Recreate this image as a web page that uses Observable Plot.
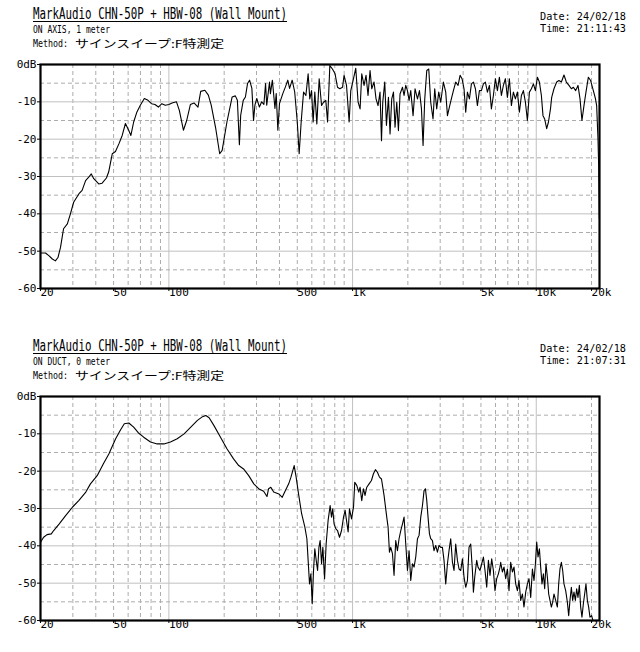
<!DOCTYPE html>
<html>
<head>
<meta charset="utf-8">
<script src="https://cdn.jsdelivr.net/npm/d3@7"></script>
<script src="https://cdn.jsdelivr.net/npm/@observablehq/plot@0.6"></script>
<style>
  html, body { margin: 0; padding: 0; background: #fff; }
  #root { position: relative; width: 640px; height: 652px; background: #fff; overflow: hidden; }
  .hdr { position: absolute; left: 0; pointer-events: none; }
</style>
</head>
<body>
<div id="root"></div>
<script>
// ---------- text ----------
const titleText = "MarkAudio CHN-50P + HBW-08 (Wall Mount)";
const methodLabel = "Method:";
const methodText = "サインスイープ:F特測定";
const subTop = "ON AXIS, 1 meter";
const subBottom = "ON DUCT, 0 meter";
const dateTop = "Date: 24/02/18";
const timeTop = "Time: 21:11:43";
const dateBottom = "Date: 24/02/18";
const timeBottom = "Time: 21:07:31";

// ---------- axes ----------
const xTicks = [20, 50, 100, 500, 1000, 5000, 10000, 20000];
const xTickLabels = ["20", "50", "100", "500", "1k", "5k", "10k", "20k"];
const yTicks = [0, -10, -20, -30, -40, -50, -60];
const gridSolidX = [100, 1000, 10000];
const gridDashX = [30, 40, 50, 60, 70, 80, 90, 200, 300, 400, 500, 600, 700, 800, 900,
                   2000, 3000, 4000, 5000, 6000, 7000, 8000, 9000, 20000];
const gridSolidY = [-10, -20, -30, -40, -50];
const gridDashY = [-5, -15, -25, -35, -45, -55];

// ---------- series: ON AXIS, 1 meter (Hz, dB) ----------
const axisFreq = [20, 21.3, 22.2, 23.2, 24.1, 24.9, 25.7, 26.7, 28, 29.1, 30.3, 32.4, 33.7, 35.2, 36.6, 37.8, 39, 41.5, 43.3, 45.7,
  47, 49.2, 51.2, 53.5, 55.7, 58, 60.4, 62.1, 64.3, 67, 69.9, 73.5, 77, 80.4, 84, 87.7, 91.5, 95.6, 100, 104,
  110, 114, 120, 125, 131, 137, 144, 149, 157, 164, 170, 180, 189, 195, 207, 221, 230, 236, 242, 246,
  254, 261, 268, 275, 283, 289, 294, 301, 311, 320, 329, 336, 341, 353, 357, 366, 378, 384, 392, 400,
  417, 431, 444, 454, 469, 484, 500, 512, 525, 541, 557, 573, 585, 598, 610, 623, 639, 658, 678, 695,
  715, 731, 752, 777, 803, 828, 852, 882, 899, 927, 958, 978, 1012, 1041, 1072, 1099, 1122, 1155, 1184, 1214,
  1245, 1272, 1309, 1342, 1376, 1411, 1437, 1460, 1497, 1529, 1568, 1600, 1634, 1670, 1703, 1740, 1777, 1813, 1870, 1907,
  1948, 1990, 2031, 2074, 2135, 2189, 2256, 2313, 2372, 2420, 2472, 2535, 2599, 2664, 2742, 2801, 2872, 2945, 3020, 3123,
  3215, 3285, 3381, 3466, 3541, 3644, 3753, 3849, 3944, 4044, 4131, 4220, 4327, 4437, 4549, 4665, 4783, 4905, 5029, 5157,
  5287, 5422, 5559, 5700, 5844, 5992, 6145, 6301, 6460, 6624, 6792, 6965, 7142, 7323, 7509, 7699, 7895, 8095, 8302, 8513,
  8729, 8951, 9178, 9412, 9651, 9895, 10147, 10404, 10666, 10882, 11116, 11399, 11656, 11953, 12135, 12491, 12920, 13296, 13704, 14159,
  14584, 15071, 15532, 15926, 16392, 16879, 17313, 17737, 18189, 18653, 19220, 19776, 20456, 20975, 21324, 21680, 21870, 22060];
const axisDb = [-50.5, -50.5, -51.2, -52.1, -52.6, -51.7, -49, -44, -42.7, -40, -36.9, -34.6, -33.7, -31.1, -30.2, -29.3, -30.6, -32, -31.8, -30.4,
  -28.8, -23.9, -23.3, -21.2, -19, -15.8, -17.6, -19, -15.4, -12.7, -10.9, -9.1, -9.6, -10.5, -10.7, -11.4, -10.5, -10.9, -10.7, -10.3,
  -10, -12.3, -17.6, -15, -10.7, -10.3, -11.4, -7.2, -6.9, -8.2, -10.9, -17.2, -23.9, -23, -15.4, -8.7, -8.4, -9.6, -21.5, -13.6,
  -9.6, -8.7, -5.1, -4.2, -6.4, -15, -10.9, -9.1, -11.4, -10, -10.7, -5.1, -10.9, -4.7, -7.8, -4.2, -11.8, -7.8, -17.6, -10.5,
  -7.8, -6, -4.2, -6.4, -4.2, -7.3, -15.4, -23.9, -15.4, -7.4, -8.3, -2.5, -9.2, -7, -15.4, -7.4, -15.9, -3.8, -11, -10.1,
  -9.6, -15.4, -0.3, -1.2, -2.5, -6.1, -6.5, -6.1, -2.9, -5.6, -15.4, -7, -3.8, -1, -10.1, -11.9, -2.5, -5.6, -2.9, -8.3,
  -1.6, -6.5, -4.7, -9.2, -11, -7.4, -20.4, -10.1, -4.7, -16.3, -8.8, -18.6, -9.2, -7.4, -16.8, -10.1, -17.7, -7.9, -6.1, -8.3,
  -5.6, -7, -9.6, -7, -13.7, -6.5, -9.2, -7, -11.9, -21.7, -9.2, -1.6, -1.2, -10.1, -14.6, -6.5, -11.9, -7.4, -10.1, -4.7,
  -7.4, -13.7, -11, -8.8, -7, -4.7, -5.6, -2.9, -3.8, -6.5, -12.8, -7.4, -9.2, -5.2, -4.7, -6.5, -11, -7, -7, -5.2,
  -4.7, -7.4, -5.6, -11.9, -8.3, -3.8, -7, -3.4, -8.3, -5.6, -3.8, -8.8, -3.8, -11, -7.4, -9.2, -7.4, -12.8, -8.3, -7,
  -10.1, -15, -7.4, -6.5, -5.2, -7, -3.4, -4.7, -8.3, -13.7, -14.6, -17.2, -15.4, -11.9, -8.8, -6.5, -4.7, -4.3, -4.7, -2.8,
  -4.7, -5.6, -6.5, -6.1, -7, -5.6, -9.2, -15, -11, -7.4, -3.4, -4.3, -7, -9, -11, -19.8, -27, -41.3];

// ---------- series: ON DUCT, 0 meter (Hz, dB) ----------
const ductFreq = [20, 20.8, 21.7, 22.9, 23.6, 25.3, 27.4, 29.9, 32.3, 35.3, 37.4, 40.7, 44, 47.1, 51.3, 54.6, 57.2, 60.5, 64.3, 68.1,
  72.9, 79.4, 86.4, 93.9, 102, 111, 121, 131.6, 143, 152.5, 158.9, 165.6, 176, 191, 207, 225, 240, 255, 272, 290,
  308, 328, 342, 349, 359, 372, 397, 414, 431, 449, 462, 481, 493, 508, 528, 550, 564, 573, 583, 593,
  603, 613, 623, 634, 645, 656, 666, 678, 689, 704, 718, 736, 755, 768, 780, 793, 810, 828, 849, 871,
  893, 911, 930, 946, 962, 987, 1012, 1028, 1054, 1081, 1099, 1122, 1146, 1169, 1195, 1230, 1267, 1299, 1332, 1366,
  1401, 1437, 1484, 1535, 1561, 1588, 1614, 1649, 1682, 1718, 1755, 1791, 1830, 1870, 1907, 1948, 1990, 2031, 2074, 2119,
  2162, 2208, 2256, 2302, 2351, 2402, 2450, 2493, 2535, 2576, 2622, 2664, 2722, 2776, 2836, 2897, 2956, 3020, 3085, 3147,
  3215, 3285, 3351, 3423, 3497, 3567, 3644, 3723, 3799, 3880, 3964, 4044, 4131, 4220, 4306, 4398, 4493, 4549, 4624, 4741,
  4820, 4942, 5048, 5157, 5261, 5374, 5490, 5601, 5721, 5844, 5963, 6091, 6222, 6348, 6404, 6542, 6674, 6818, 6965, 7107,
  7259, 7416, 7565, 7729, 7895, 8055, 8230, 8408, 8577, 8762, 8951, 9133, 9330, 9532, 9724, 9895, 10059, 10225, 10405, 10573,
  10746, 10937, 11116, 11299, 11499, 11688, 11880, 12090, 12288, 12490, 12759, 13034, 13248, 13465, 13704, 13929, 14157, 14463, 14774, 15017,
  15263, 15531, 15787, 16046, 16329, 16598, 16873, 17170, 17451, 17737, 18051, 18348, 18650, 18980, 19292, 19608, 20025, 20456, 21000, 22060];
const ductDb = [-39, -37.7, -37, -36.8, -35.9, -34.1, -31.9, -29.6, -27.9, -25.6, -23.4, -21.2, -18, -15.4, -11.3, -8.9, -7.3, -7.1, -8.2, -9.7,
  -10.9, -12.2, -12.7, -12.7, -12.2, -11.3, -10, -8.2, -6.4, -5.4, -5.1, -5.7, -7.8, -10.9, -14, -16.7, -18.5, -19.4, -21.2, -23.4,
  -24.7, -25.4, -26.8, -24.7, -24.3, -25.6, -26.1, -27, -25.2, -23.4, -21.6, -18.5, -21.6, -26.1, -31.4, -35, -38.1, -43.9, -50.2, -47.5,
  -55.5, -46.6, -40.8, -43.9, -46.6, -40.4, -38.6, -44.8, -40.4, -48.8, -39.5, -33.2, -29.2, -32.3, -30.1, -34.1, -35.4, -35.9, -37.7, -35.9,
  -32.3, -30.5, -33.7, -36.3, -30.1, -32.8, -29.6, -23, -23.8, -25.6, -24.3, -27.9, -24.7, -26.5, -24.3, -23.4, -22.5, -20.7, -19.6, -20.3,
  -21.6, -22.1, -26.5, -32.3, -35, -41.7, -40.4, -42.1, -47.9, -38.6, -41.3, -38.1, -35.9, -34.1, -32.3, -39.5, -46.6, -41.3, -49.3, -44.8,
  -45.7, -43, -38.1, -37.2, -32.3, -29.2, -25.2, -24.7, -27.9, -32.3, -36.8, -38.1, -38.6, -41.3, -39.9, -41.7, -39.9, -40.4, -40.4, -43.9,
  -50.2, -44.8, -41.3, -38.1, -44.4, -46.6, -39.5, -43.9, -46.2, -46.6, -43.5, -48.4, -51.1, -49.3, -40.4, -39.5, -46.6, -52.4, -48.4, -43.9,
  -45.7, -46.6, -44.8, -43, -46.6, -51.1, -43.9, -47.9, -43.5, -46.6, -52, -48.8, -47.5, -45.7, -44.4, -47, -45.7, -48.8, -46.2, -52,
  -44.4, -47, -45.7, -50.2, -52, -49.3, -54.6, -52.9, -56.4, -52.4, -50.2, -48.8, -53.8, -46.2, -49.3, -44.8, -39, -43, -40.8, -45.7,
  -50.2, -47.5, -51.5, -44.8, -48.4, -52.9, -54.6, -56.4, -55.1, -52.9, -54.6, -56.4, -50.2, -46.2, -44.4, -46.6, -50.2, -52, -55.1, -58.7,
  -54.6, -51.1, -54.6, -52.4, -54.6, -51.5, -53.8, -50.6, -56.4, -59.1, -55.5, -52.9, -50.2, -54.6, -56.4, -59.1, -58.7, -60.5, -63, -64];

// ---------- drawing ----------
const MONO = "'DejaVu Sans Mono', monospace";

function makeChart(freq, db) {
  const data = freq.map((f, i) => ({ f, db: db[i] }));
  return Plot.plot({
    width: 640,
    height: 320,
    marginTop: 64,
    marginBottom: 32,
    marginLeft: 40,
    marginRight: 41,
    style: { fontFamily: MONO, fontSize: "11px", color: "black", background: "white", overflow: "visible" },
    x: { type: "log", domain: [20, 22100], axis: null },
    y: {
      domain: [-60, 0],
      ticks: yTicks,
      tickFormat: d => d === 0 ? "0dB" : String(d),
      tickSize: 3,
      tickPadding: 1,
      label: null
    },
    marks: [
      Plot.ruleX(gridDashX, { stroke: "#acacac", strokeWidth: 1, strokeDasharray: "4,3" }),
      Plot.ruleX(gridSolidX, { stroke: "#c0c0c0", strokeWidth: 1 }),
      Plot.ruleY(gridDashY, { stroke: "#acacac", strokeWidth: 1, strokeDasharray: "4,3" }),
      Plot.ruleY(gridSolidY, { stroke: "#c0c0c0", strokeWidth: 1 }),
      Plot.ruleX(xTicks, { y1: -60, y2: -60.8, stroke: "black", strokeWidth: 1 }),
      Plot.text(xTicks, {
        x: d => d,
        text: (d, i) => xTickLabels[i],
        frameAnchor: "bottom",
        textAnchor: "start",
        dy: 7.5,
        fill: "black",
        fontSize: 11
      }),
      Plot.line(data, { x: "f", y: "db", stroke: "black", strokeWidth: 1.1, clip: true }),
      Plot.frame({ stroke: "black", strokeWidth: 2.2 })
    ]
  });
}

function header(top, sub, date, time) {
  const ns = "http://www.w3.org/2000/svg";
  const svg = document.createElementNS(ns, "svg");
  svg.setAttribute("class", "hdr");
  svg.setAttribute("width", 640);
  svg.setAttribute("height", 52);
  svg.style.top = top + "px";
  const add = (txt, x, y, size, len, family) => {
    const t = document.createElementNS(ns, "text");
    t.setAttribute("x", x);
    t.setAttribute("y", y);
    t.setAttribute("font-size", size);
    t.setAttribute("font-family", family || MONO);
    t.setAttribute("fill", "black");
    if (len) { t.setAttribute("textLength", len); t.setAttribute("lengthAdjust", "spacingAndGlyphs"); }
    t.textContent = txt;
    svg.appendChild(t);
  };
  add(titleText, 33, 19, 16, 254);
  const u = document.createElementNS(ns, "line");
  u.setAttribute("x1", 33); u.setAttribute("x2", 287);
  u.setAttribute("y1", 21.5); u.setAttribute("y2", 21.5);
  u.setAttribute("stroke", "black"); u.setAttribute("stroke-width", 1);
  svg.appendChild(u);
  add(sub, 33, 32.5, 11, 77);
  add(methodLabel, 33, 46.5, 11, 35);
  add(methodText, 75, 48, 11, 149, "'Noto Sans CJK JP', sans-serif");
  add(date, 540, 20, 11, 86);
  add(time, 540, 31.5, 11, 86);
  return svg;
}

const root = document.getElementById("root");
const topChart = makeChart(axisFreq, axisDb);
topChart.style.position = "absolute"; topChart.style.top = "0px"; topChart.style.left = "0px";
root.appendChild(topChart);
const botChart = makeChart(ductFreq, ductDb);
botChart.style.position = "absolute"; botChart.style.top = "332px"; botChart.style.left = "0px";
root.appendChild(botChart);
root.appendChild(header(0, subTop, dateTop, timeTop));
root.appendChild(header(332, subBottom, dateBottom, timeBottom));
</script>
</body>
</html>
